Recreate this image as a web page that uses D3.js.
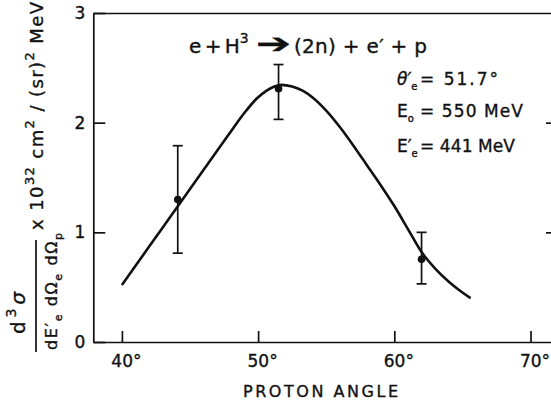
<!DOCTYPE html>
<html>
<head>
<meta charset="utf-8">
<script src="https://cdn.jsdelivr.net/npm/d3@7"></script>
<style>
  body { margin: 0; background: #fff; }
  text { font-family: "DejaVu Sans", sans-serif; fill: #111; stroke: #111; stroke-width: 0.35px; }
</style>
</head>
<body>
<svg id="chart"></svg>
<script>
// DATA
////////////////////////////
// theory curve
var curveAngle = [40, 42, 44, 46, 48, 49, 49.9, 50.6, 51.2, 51.7, 52.5, 53.3, 54, 55, 56, 57, 58, 59, 60, 61, 62, 63, 64, 64.8, 65.6];
var curveValue = [0.52, 0.87, 1.22, 1.57, 1.92, 2.09, 2.22, 2.29, 2.33, 2.345, 2.33, 2.29, 2.23, 2.11, 1.96, 1.79, 1.61, 1.43, 1.24, 1.03, 0.82, 0.67, 0.55, 0.47, 0.40];

// measured points with error bars
var pointAngle = [44.1, 51.5, 62.0];
var pointValue = [1.30, 2.31, 0.755];
var errorLow   = [0.81, 2.03, 0.53];
var errorHigh  = [1.79, 2.53, 1.00];

var xTicks = [40, 50, 60, 70];
var yTicks = [0, 1, 2, 3];
var xTitle = "PROTON ANGLE";

// SETUP
////////////////////////////
var width = 551,
    height = 405;

var svg = d3.select("#chart")
    .attr("width", width)
    .attr("height", height);

var x = d3.scaleLinear().domain([37.9, 71.65]).range([93.3, 553]);
var y = d3.scaleLinear().domain([0, 3]).range([342, 13]);

// AXES (ticks point inward)
////////////////////////////
var gx = svg.append("g")
    .attr("transform", "translate(0," + y(0) + ")")
    .call(d3.axisBottom(x).tickValues(xTicks).tickSizeInner(-11).tickSizeOuter(0)
      .tickPadding(13).tickFormat(function(d) { return d + "°"; }));
gx.selectAll("text").attr("dx", "4px");

var gy = svg.append("g")
    .attr("transform", "translate(" + x(37.9) + ",0)")
    .call(d3.axisLeft(y).tickValues(yTicks).tickSizeInner(-12).tickSizeOuter(0)
      .tickPadding(8).tickFormat(d3.format("d")));

svg.append("g")
    .attr("transform", "translate(0," + y(3) + ")")
    .call(d3.axisTop(x).tickValues([]).tickSizeOuter(0));

svg.append("g")
    .attr("transform", "translate(" + x(71.65) + ",0)")
    .call(d3.axisRight(y).tickValues([1, 2]).tickSizeInner(-7).tickSizeOuter(0).tickFormat(""));

svg.selectAll(".domain, .tick line")
    .attr("stroke", "#111")
    .attr("stroke-width", 1.7);
svg.selectAll(".tick text")
    .attr("font-size", 17)
    .attr("font-family", "DejaVu Sans")
    .attr("fill", "#111");

// x title
svg.append("text")
    .attr("x", 243).attr("y", 397)
    .attr("font-size", 16)
    .attr("textLength", 155)
    .attr("lengthAdjust", "spacing")
    .text(xTitle);

// CURVE
////////////////////////////
var line = d3.line()
    .x(function(d) { return x(d[0]); })
    .y(function(d) { return y(d[1]); })
    .curve(d3.curveMonotoneX);

svg.append("path")
    .datum(d3.zip(curveAngle, curveValue))
    .attr("d", line)
    .attr("fill", "none")
    .attr("stroke", "#111")
    .attr("stroke-width", 2.6);

// POINTS + ERROR BARS
////////////////////////////
var pts = svg.selectAll("g.pt")
    .data(d3.range(pointAngle.length))
    .enter().append("g").attr("class", "pt");

pts.append("line")
    .attr("x1", function(i) { return x(pointAngle[i]); })
    .attr("x2", function(i) { return x(pointAngle[i]); })
    .attr("y1", function(i) { return y(errorLow[i]); })
    .attr("y2", function(i) { return y(errorHigh[i]); });
pts.append("line")
    .attr("x1", function(i) { return x(pointAngle[i]) - 5; })
    .attr("x2", function(i) { return x(pointAngle[i]) + 5; })
    .attr("y1", function(i) { return y(errorLow[i]); })
    .attr("y2", function(i) { return y(errorLow[i]); });
pts.append("line")
    .attr("x1", function(i) { return x(pointAngle[i]) - 5; })
    .attr("x2", function(i) { return x(pointAngle[i]) + 5; })
    .attr("y1", function(i) { return y(errorHigh[i]); })
    .attr("y2", function(i) { return y(errorHigh[i]); });
pts.selectAll("line").attr("stroke", "#111").attr("stroke-width", 1.7);
pts.append("circle")
    .attr("cx", function(i) { return x(pointAngle[i]); })
    .attr("cy", function(i) { return y(pointValue[i]); })
    .attr("r", 3.8)
    .attr("fill", "#111");

// TITLE: e + H3 -> (2n) + e' + p
////////////////////////////
var t1 = svg.append("text").attr("x", 189).attr("y", 53).attr("font-size", 20)
    .attr("word-spacing", "-3px");
t1.append("tspan").text("e + H");
t1.append("tspan").attr("font-size", 14).attr("dy", -10).text("3");

svg.append("text").attr("x", 256).attr("y", 53).attr("font-size", 28)
    .attr("textLength", 35).attr("lengthAdjust", "spacingAndGlyphs")
    .text("➔");

svg.append("text").attr("x", 294).attr("y", 53).attr("font-size", 20)
    .attr("textLength", 133).attr("lengthAdjust", "spacing")
    .text("(2n) + e′ + p");

// KINEMATICS
////////////////////////////
var kin = [
  { sym: "θ′", sub: "e", val: "= 51.7°",   len: 78,  y: 85 },
  { sym: "E",  sub: "o", val: "= 550 MeV", len: 103, y: 117 },
  { sym: "E′", sub: "e", val: "= 441 MeV", len: 95,  y: 152 }
];
kin.forEach(function(k) {
  var s = svg.append("text").attr("x", 397).attr("y", k.y).attr("font-size", 17);
  s.append("tspan").attr("font-style", k.sym[0] === "θ" ? "italic" : null).text(k.sym);
  s.append("tspan").attr("font-size", 10).attr("dy", 5).text(k.sub);
  svg.append("text").attr("x", 420).attr("y", k.y).attr("font-size", 17)
    .attr("textLength", k.len).attr("lengthAdjust", "spacing")
    .text(k.val);
});

// Y LABEL (rotated)
////////////////////////////
var gl = svg.append("g").attr("transform", "rotate(-90)");

var num = gl.append("text").attr("x", -334).attr("y", 25).attr("font-size", 20)
    .attr("textLength", 42).attr("lengthAdjust", "spacing");
num.append("tspan").text("d");
num.append("tspan").attr("font-size", 14).attr("dy", -9).text("3");
num.append("tspan").attr("dy", 9).attr("font-style", "italic").text("σ");

svg.append("line").attr("x1", 36).attr("x2", 36).attr("y1", 240).attr("y2", 352)
    .attr("stroke", "#111").attr("stroke-width", 1.7);

var den = gl.append("text").attr("x", -350).attr("y", 57).attr("font-size", 16)
    .attr("textLength", 117).attr("lengthAdjust", "spacing");
den.append("tspan").text("dE′");
den.append("tspan").attr("font-size", 11).attr("dy", 5).text("e");
den.append("tspan").attr("dy", -5).text(" dΩ");
den.append("tspan").attr("font-size", 11).attr("dy", 5).text("e");
den.append("tspan").attr("dy", -5).text(" dΩ");
den.append("tspan").attr("font-size", 11).attr("dy", 5).text("p");

var unit = gl.append("text").attr("x", -230).attr("y", 43).attr("font-size", 18)
    .attr("textLength", 228).attr("lengthAdjust", "spacing");
unit.append("tspan").text("x 10");
unit.append("tspan").attr("font-size", 13).attr("dy", -9).text("32");
unit.append("tspan").attr("dy", 9).text("  cm");
unit.append("tspan").attr("font-size", 13).attr("dy", -9).text("2");
unit.append("tspan").attr("dy", 9).text(" / (sr)");
unit.append("tspan").attr("font-size", 13).attr("dy", -9).text("2");
unit.append("tspan").attr("dy", 9).text(" MeV");
</script>
</body>
</html>
